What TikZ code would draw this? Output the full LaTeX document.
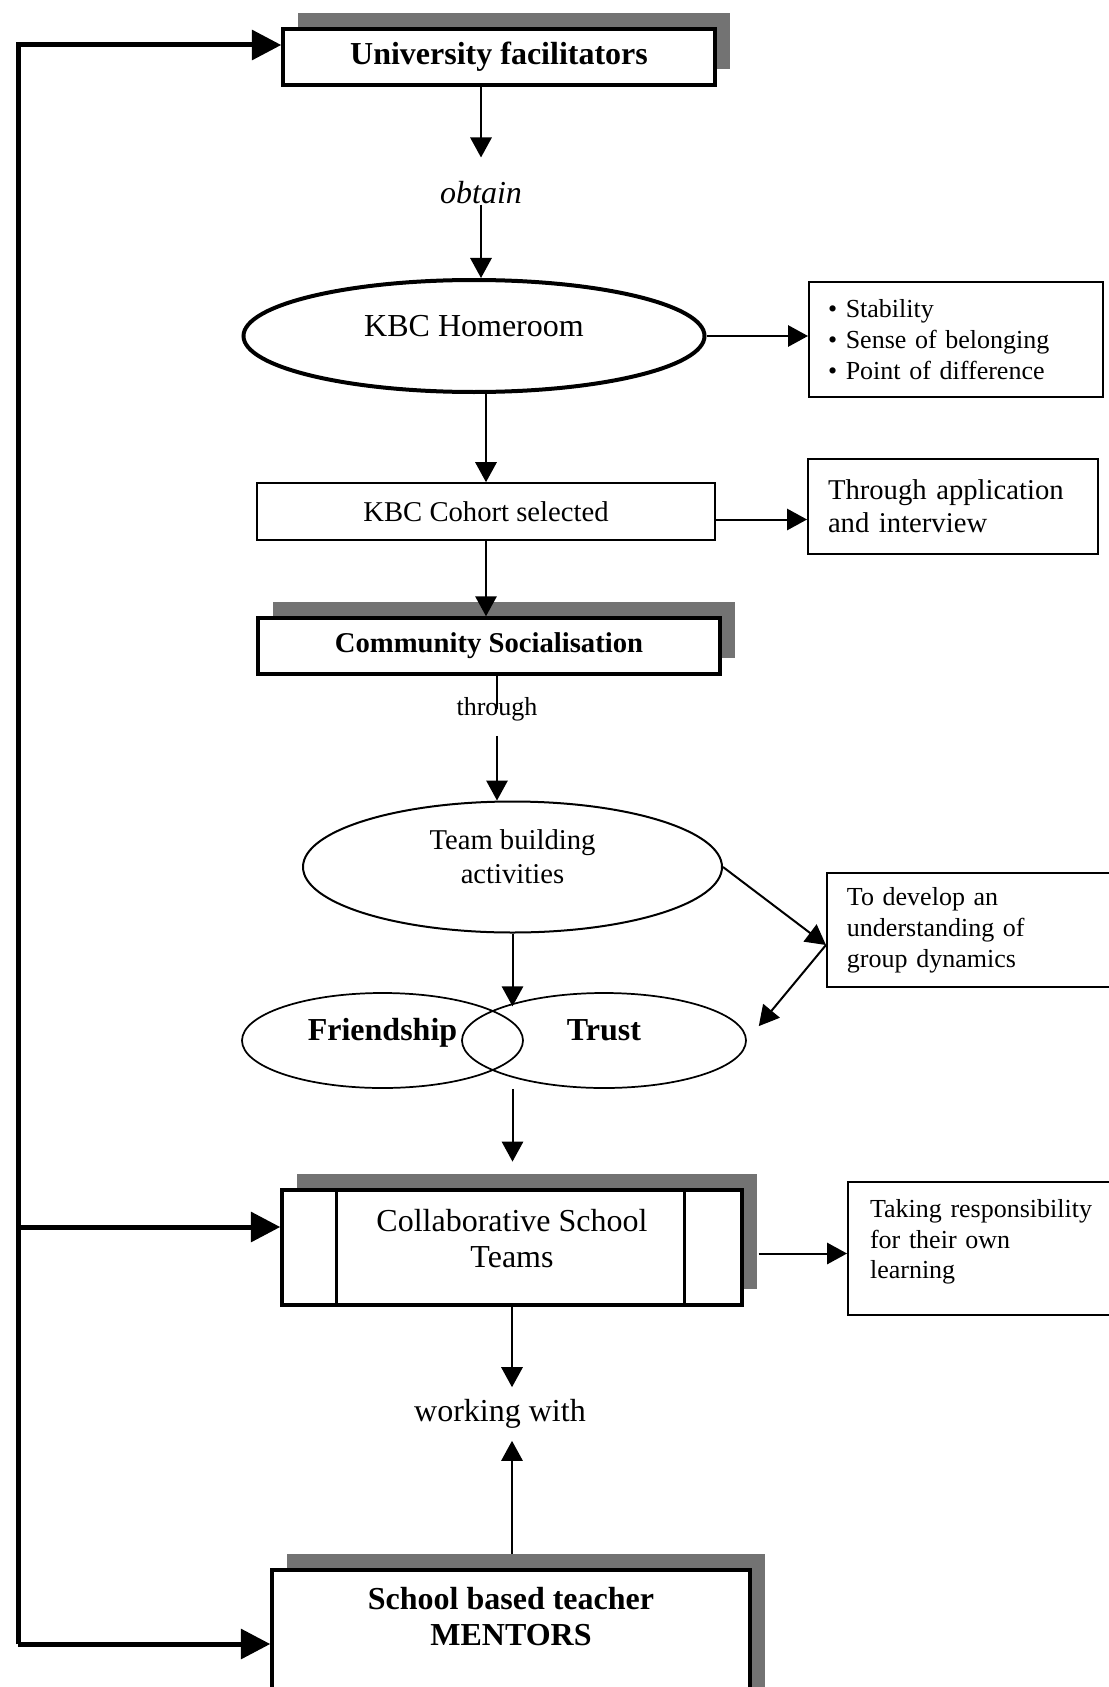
\documentclass[tikz,border=0pt]{standalone}
\usepackage{fontspec}
\setmainfont{Liberation Serif}
\usetikzlibrary{arrows.meta,shapes.geometric,shadows,calc}

\tikzset{
  arr/.style={line width=1.5pt,-{Triangle[length=15pt,width=16pt]}},
  fbarr/.style={line width=3.75pt,-{Triangle[length=22pt,width=22pt]}},
  shadowbox/.style={draw,line width=2.6pt,fill=white,general shadow={fill=black!55,shadow xshift=11pt,shadow yshift=12pt}},
  plainbox/.style={draw,line width=1.2pt},
  sidebox/.style={draw,line width=1.5pt,align=left,inner xsep=15pt},
  lbl/.style={inner sep=0pt},
}

\begin{document}
\begin{tikzpicture}[x=0.75pt,y=0.75pt,yscale=-1,xscale=1]
\useasboundingbox (0,0) rectangle (1109,1687);

%Shape: Rectangle
\node[shadowbox,minimum width=324pt,minimum height=42pt,font=\bfseries\fontsize{24}{27}\selectfont] (univ) at (499,57) {University facilitators};
%Text
\node[lbl,font=\itshape\fontsize{24}{27}\selectfont] (obtain) at (481,193) {obtain};
%Shape: Ellipse
\node[ellipse,draw,line width=3pt,minimum width=345.75pt,minimum height=84pt,font=\fontsize{24}{27}\selectfont,text height=17pt,text depth=17pt] (home) at (474,336) {KBC Homeroom};
%Shape: Rectangle
\node[sidebox,inner xsep=14.25pt,text width=192pt,minimum height=86.25pt,font=\fontsize{19.5}{23}\selectfont] (stab) at (956,339.5) {\textbullet\ Stability\\\textbullet\ Sense of belonging\\\textbullet\ Point of difference};
%Shape: Rectangle
\node[plainbox,minimum width=343.5pt,minimum height=42.75pt,font=\fontsize{21.5}{25}\selectfont] (cohort) at (486,511.5) {KBC Cohort selected};
%Shape: Rectangle
\node[sidebox,text width=187.5pt,minimum height=71.25pt,font=\fontsize{21.5}{25}\selectfont] (appl) at (953,506.5) {Through application\\and interview};
%Shape: Rectangle
\node[shadowbox,minimum width=346.5pt,minimum height=42pt,font=\bfseries\fontsize{21.5}{25}\selectfont] (cs) at (489,646) {Community Socialisation};
%Text
\node[lbl,font=\fontsize{19.5}{23}\selectfont] (thr) at (497,709) {through};
%Shape: Ellipse
\node[ellipse,draw,line width=1.5pt,minimum width=314.25pt,minimum height=98.25pt,align=center,font=\fontsize{21.5}{25}\selectfont,text height=29pt,text depth=5pt] (team) at (512.5,867) {Team building\\activities};
%Shape: Ellipse
\node[ellipse,draw,line width=1.3pt,minimum width=210.75pt,minimum height=71.25pt,font=\bfseries\fontsize{24}{27}\selectfont,text height=17pt,text depth=17pt] (fr) at (382.5,1040.5) {Friendship};
%Shape: Ellipse
\node[ellipse,draw,line width=1.3pt,minimum width=213pt,minimum height=71.25pt,font=\bfseries\fontsize{24}{27}\selectfont,text height=17pt,text depth=17pt] (tr) at (604,1040.5) {Trust};
%Shape: Rectangle
\node[sidebox,text width=200pt,minimum height=85.5pt,font=\fontsize{19.5}{23.4}\selectfont] (gd) at (980.3,930) {To develop an\\understanding of\\group dynamics};
%Shape: Rectangle
\node[shadowbox,minimum width=345pt,minimum height=86.25pt,align=center,font=\fontsize{24}{26.6}\selectfont,text height=34.25pt,text depth=5pt] (cst) at (512,1247.5) {Collaborative School\\Teams};
%Shape: Rectangle
\node[sidebox,inner xsep=16.5pt,text width=175pt,minimum height=99.75pt,font=\fontsize{19.5}{22.9}\selectfont,text height=14pt,text depth=60.4pt] (resp) at (986.7,1248.5) {Taking responsibility\\for their own\\learning};
%Text
\node[lbl,font=\fontsize{24}{27}\selectfont] (wk) at (500,1414) {working with};
%Shape: Rectangle
\node[shadowbox,minimum width=358.5pt,minimum height=120pt,align=center,font=\bfseries\fontsize{24}{26.6}\selectfont,text height=17pt,text depth=24.35pt] (mnt) at (511,1650) {School based teacher\\MENTORS};

%Straight Lines
\draw[arr,shorten >=18pt] (obtain.north |- univ.south) -- (obtain.north);
\draw[arr] (obtain.south) -- (obtain.south |- home.north);
\draw[arr] (home.east) -- (home.east -| stab.west);
\draw[arr] (cohort.north |- home.south) -- (cohort.north);
\coordinate (cohout) at ($(cohort.east)+(0,8)$);
\draw[arr] (cohout) -- (cohout -| appl.west);
\draw[arr] (cohort.south) -- (cohort.south |- cs.north);
\draw[line width=1.5pt] (thr.center |- cs.south) -- (thr.center);
\draw[arr,shorten <=11pt] (thr.south) -- (thr.south |- team.north);
\draw[arr] (team.south) -- (team.south |- tr.north west);
\coordinate (gdin) at ($(gd.west)+(0,15)$);
\draw[arr] (team.east) -- (gdin);
\draw[arr,shorten >=14pt] (gdin) -- (tr.east);
\draw[arr,shorten >=20pt] (team.south |- tr.south) -- (team.south |- cst.north);
\draw[line width=2.6pt] ([xshift=42pt]cst.north west) -- ([xshift=42pt]cst.south west);
\draw[line width=2.6pt] ([xshift=-44.25pt]cst.north east) -- ([xshift=-44.25pt]cst.south east);
\coordinate (cstout) at ($(cst.east)+(15,6)$);
\draw[arr] (cstout) -- (cstout -| resp.west);
\draw[arr,shorten >=9pt] (cst.south) -- (cst.south |- wk.north);
\draw[arr,shorten <=11pt,shorten >=9pt] (cst.south |- mnt.north) -- (cst.south |- wk.south);

%Feedback loop
\coordinate (fbt) at (18,45);
\coordinate (fbm) at (18,1227);
\coordinate (fbb) at (18,1644);
\draw[fbarr] (fbb) -- (fbt) -- (fbt -| univ.west);
\draw[fbarr] (fbm) -- (fbm -| cst.west);
\draw[fbarr] (fbb) -- (fbb -| mnt.west);

\end{tikzpicture}
\end{document}
